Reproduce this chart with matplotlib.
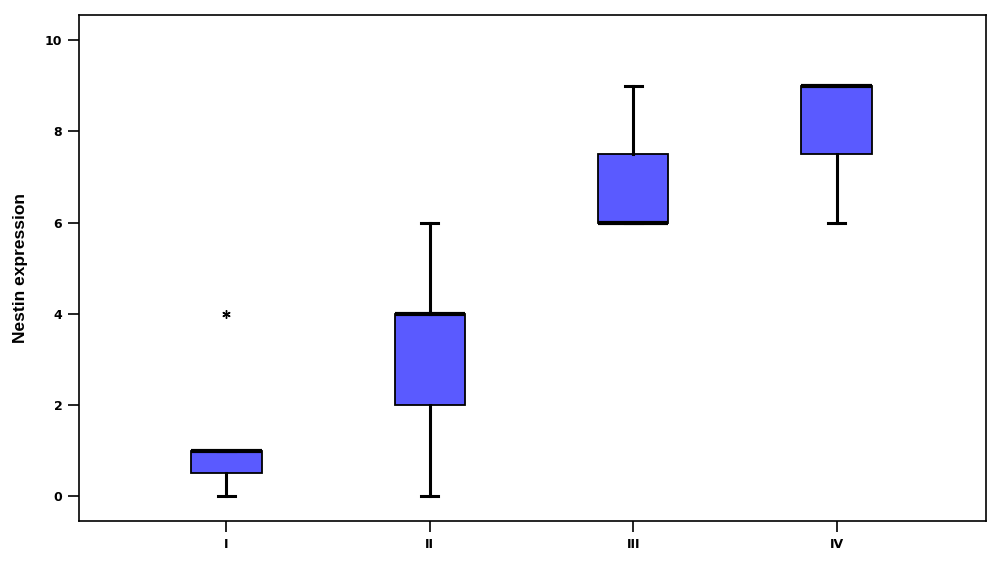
import matplotlib
matplotlib.use("Agg")
import matplotlib.pyplot as plt

# === Data ===
groups = ["I", "II", "III", "IV"]
whisker_low = [0, 0, 6, 6]
q1 = [0.5, 2, 6, 7.5]
median = [1, 4, 6, 9]
q3 = [1, 4, 7.5, 9]
whisker_high = [1, 6, 9, 9]
outliers = [[4], [], [], []]

stats = []
for i, g in enumerate(groups):
    stats.append({
        "label": g,
        "whislo": whisker_low[i],
        "q1": q1[i],
        "med": median[i],
        "q3": q3[i],
        "whishi": whisker_high[i],
        "fliers": outliers[i],
    })

fig = plt.figure(figsize=(10, 5.61), dpi=100)
ax = fig.add_axes([0.079, 0.071, 0.907, 0.902])

positions = range(1, len(groups) + 1)
ax.bxp(stats, positions=positions, widths=0.345, capwidths=0.085,
       patch_artist=True,
       boxprops=dict(facecolor="#5a5aff", edgecolor="black", linewidth=1.3),
       medianprops=dict(color="black", linewidth=3, zorder=5),
       whiskerprops=dict(color="black", linewidth=2.2),
       capprops=dict(color="black", linewidth=2.2),
       flierprops=dict(marker=(6, 2, 0), markersize=6, markeredgecolor="black",
                       markeredgewidth=1.0, linestyle="none"))

ax.set_xlim(0.275, 4.735)
ax.set_ylim(-0.55, 10.55)
ax.set_yticks([0, 2, 4, 6, 8, 10])
ax.set_xticks(list(positions))
ax.set_xticklabels(groups)

for lab in ax.get_xticklabels() + ax.get_yticklabels():
    lab.set_fontweight("bold")
    lab.set_fontsize(9)
    lab.set_family("DejaVu Sans")

ax.tick_params(axis="both", direction="out", length=8, width=1.2, pad=4)
for s in ax.spines.values():
    s.set_linewidth(1.2)

ax.set_ylabel("Nestin expression", fontsize=12.5, fontweight="bold",
              family="Liberation Sans", labelpad=12)

fig.savefig("out.png", dpi=100)
